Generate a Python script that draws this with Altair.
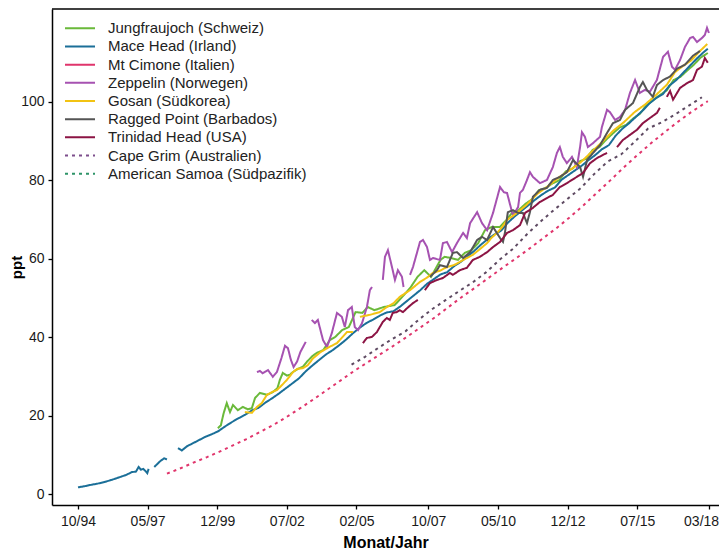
import altair as alt
import pandas as pd

STATIONS = ["Jungfraujoch (Schweiz)", "Mace Head (Irland)", "Mt Cimone (Italien)",
            "Zeppelin (Norwegen)", "Gosan (Südkorea)", "Ragged Point (Barbados)",
            "Trinidad Head (USA)", "Cape Grim (Australien)", "American Samoa (Südpazifik)"]
LEGEND_COLORS = ["#6ab93a", "#1b6f98", "#e0356c", "#a652b1", "#f2c313", "#555555",
                 "#8c1444", "#7d4e8c", "#2e9468"]
PLOT_COLORS = ["#6ab93a", "#1b6f98", "#e0356c", "#a652b1", "#f2c313", "#555555",
               "#8c1444", "#e0356c", "#5e4a62"]
DOTTED = [0, 0, 0, 0, 0, 0, 0, 1, 1]

X_TICK_LABELS = ["10/94", "05/97", "12/99", "07/02", "02/05", "10/07", "05/10", "12/12", "07/15", "03/18"]
Y_TICKS = [0, 20, 40, 60, 80, 100]

# (decimal year, ppt) per segment
JFJ = [[(1999.94, 16.8), (2000.05, 17.5), (2000.15, 20.5), (2000.27, 23.2), (2000.39, 20.9), (2000.5, 22.7),
        (2000.68, 21.4), (2000.87, 22.2), (2001.05, 21.6), (2001.2, 21.9), (2001.32, 24.5), (2001.5, 25.8),
        (2001.76, 25.3), (2001.98, 26.0), (2002.15, 27.0), (2002.24, 29.1), (2002.35, 30.9), (2002.5, 30.2),
        (2002.61, 30.4), (2002.72, 31.1), (2002.91, 31.9), (2003.1, 32.5), (2003.24, 33.7), (2003.45, 35.2),
        (2003.61, 36.0), (2003.85, 36.7), (2004.1, 39.3), (2004.3, 40.1), (2004.55, 41.8), (2004.8, 42.6),
        (2005.05, 46.4), (2005.3, 46.2), (2005.5, 47.7), (2005.75, 46.9), (2006.1, 47.7), (2006.5, 48.2),
        (2006.85, 50.8), (2007.1, 52.8), (2007.35, 55.4), (2007.6, 57.1), (2007.85, 55.4), (2008.2, 59.7),
        (2008.35, 60.5), (2008.6, 60.2), (2008.85, 59.7), (2009.1, 61.5), (2009.35, 62.2), (2009.6, 64.0),
        (2009.85, 67.3), (2010.1, 68.1), (2010.4, 68.1), (2010.65, 69.9), (2010.85, 71.7), (2011.1, 72.4),
        (2011.35, 74.0), (2011.6, 75.2), (2011.85, 77.5), (2012.1, 78.0), (2012.35, 79.2), (2012.6, 80.0),
        (2012.85, 82.3), (2013.1, 83.0), (2013.35, 84.8), (2013.6, 85.5), (2013.85, 87.8), (2014.1, 88.5),
        (2014.35, 90.4), (2014.6, 92.0), (2014.85, 93.5), (2015.1, 94.2), (2015.35, 95.8), (2015.6, 97.0),
        (2015.85, 99.2), (2016.1, 100.5), (2016.35, 101.8), (2016.6, 103.0), (2016.85, 105.6), (2017.1, 106.4),
        (2017.35, 108.0), (2017.6, 109.5), (2017.85, 111.3), (2018.12, 112.5)]]

MHD = [[(1994.75, 1.7), (1995.0, 2.0), (1995.2, 2.3), (1995.45, 2.6), (1995.7, 3.0), (1996.0, 3.6),
        (1996.3, 4.3), (1996.55, 4.9), (1996.75, 5.6), (1996.9, 5.7), (1997.0, 6.9), (1997.08, 6.2),
        (1997.17, 6.4), (1997.25, 5.9), (1997.32, 5.3), (1997.37, 6.4)],
       [(1997.58, 6.9), (1997.7, 7.7), (1997.82, 8.5), (1997.95, 9.1), (1998.05, 8.8)],
       [(1998.46, 11.7), (1998.6, 11.1), (1998.8, 12.2), (1999.0, 12.9), (1999.2, 13.6), (1999.45, 14.5),
        (1999.7, 15.2), (1999.95, 16.0), (2000.2, 17.2), (2000.45, 18.3), (2000.7, 19.3), (2000.95, 20.2),
        (2001.2, 21.3), (2001.45, 22.0), (2001.7, 23.3), (2001.95, 24.4), (2002.2, 25.6), (2002.45, 26.9),
        (2002.7, 28.2), (2002.95, 29.5), (2003.2, 31.3), (2003.45, 32.8), (2003.7, 34.2), (2003.95, 35.6),
        (2004.2, 36.7), (2004.45, 38.0), (2004.7, 39.4), (2004.95, 41.0), (2005.2, 42.4), (2005.45, 43.6),
        (2005.7, 44.5), (2005.95, 45.5), (2006.2, 46.3), (2006.45, 46.6), (2006.7, 47.8), (2006.95, 49.2),
        (2007.2, 50.6), (2007.45, 52.0), (2007.7, 53.6), (2007.95, 54.8), (2008.2, 56.0), (2008.45, 56.6),
        (2008.7, 58.1), (2008.95, 59.2), (2009.2, 60.6), (2009.45, 62.0), (2009.7, 63.6), (2009.95, 65.0),
        (2010.2, 66.2), (2010.45, 67.2), (2010.7, 69.2), (2010.95, 70.8), (2011.2, 72.2), (2011.45, 73.6),
        (2011.7, 75.0), (2011.95, 76.3), (2012.2, 77.4), (2012.45, 78.2), (2012.7, 80.2), (2012.95, 81.4),
        (2013.2, 82.6), (2013.45, 83.8), (2013.7, 85.2), (2013.95, 86.5), (2014.2, 88.0), (2014.45, 89.0),
        (2014.7, 91.4), (2014.95, 93.2), (2015.2, 94.6), (2015.45, 96.2), (2015.7, 97.8), (2015.95, 99.6),
        (2016.2, 101.0), (2016.45, 102.0), (2016.7, 104.2), (2016.95, 105.6), (2017.2, 107.4), (2017.45, 109.2),
        (2017.7, 111.0), (2017.95, 112.6), (2018.12, 113.6)]]

CMN = []

ZEP = [[(2001.39, 31.1), (2001.5, 31.4), (2001.6, 30.8), (2001.7, 31.2), (2001.8, 31.6), (2001.98, 29.9),
        (2002.13, 31.1), (2002.3, 34.7), (2002.43, 37.8), (2002.54, 37.2), (2002.65, 34.2), (2002.75, 32.4),
        (2002.88, 33.8), (2003.0, 36.2), (2003.2, 38.8)],
       [(2003.42, 44.4), (2003.54, 43.6), (2003.65, 44.4), (2003.84, 39.3), (2003.99, 37.5), (2004.17, 41.1),
        (2004.36, 46.2), (2004.54, 45.2), (2004.65, 42.6), (2004.77, 46.9), (2004.91, 47.7), (2005.02, 42.6),
        (2005.14, 41.8), (2005.29, 43.6), (2005.47, 47.7), (2005.58, 52.0), (2005.66, 52.8)],
       [(2006.06, 54.6), (2006.14, 60.5), (2006.25, 62.2), (2006.4, 57.9), (2006.51, 54.6), (2006.62, 57.1),
        (2006.77, 55.4), (2006.83, 52.8)],
       [(2007.07, 55.9), (2007.18, 57.9), (2007.44, 64.3), (2007.55, 64.8), (2007.7, 63.0), (2007.81, 59.7),
        (2007.92, 60.2), (2008.18, 59.7), (2008.29, 64.0), (2008.44, 64.3), (2008.63, 61.7), (2008.81, 64.0),
        (2009.04, 66.6), (2009.18, 65.3), (2009.3, 69.1), (2009.56, 71.9), (2009.74, 69.1), (2009.93, 67.3),
        (2010.15, 71.7), (2010.41, 78.3), (2010.55, 77.0), (2010.67, 76.8), (2010.89, 71.0), (2011.08, 73.2),
        (2011.15, 76.8), (2011.26, 77.6), (2011.41, 80.1), (2011.52, 82.1), (2011.63, 80.9), (2011.89, 79.3),
        (2012.15, 80.1), (2012.37, 83.4), (2012.52, 87.0), (2012.63, 88.5), (2012.74, 86.0), (2012.89, 84.4),
        (2013.08, 86.0), (2013.26, 83.4), (2013.38, 88.5), (2013.45, 92.3), (2013.56, 91.1), (2013.67, 88.5),
        (2013.86, 89.5), (2014.12, 91.1), (2014.19, 93.6), (2014.38, 98.0), (2014.49, 97.4), (2014.68, 95.4),
        (2014.86, 96.2), (2015.05, 98.0), (2015.23, 102.3), (2015.42, 105.6), (2015.6, 102.3), (2015.79, 103.1),
        (2015.97, 102.6), (2016.23, 105.6), (2016.46, 111.5), (2016.64, 112.8), (2016.79, 109.0), (2016.9, 108.2),
        (2017.09, 110.7), (2017.27, 114.0), (2017.46, 116.3), (2017.57, 116.6), (2017.72, 115.3), (2017.9, 116.3),
        (2018.01, 117.1), (2018.09, 118.9), (2018.16, 117.6)]]

GSN = [[(2000.94, 20.9), (2001.2, 20.7), (2001.39, 22.2), (2001.57, 23.2), (2001.76, 25.3), (2001.95, 26.0),
        (2002.13, 26.5), (2002.32, 27.8), (2002.5, 29.1), (2002.73, 31.1), (2002.88, 31.9), (2003.1, 32.1),
        (2003.28, 32.9), (2003.47, 34.6), (2003.75, 36.2), (2003.99, 37.2), (2004.36, 38.5), (2004.73, 41.3),
        (2004.95, 41.3)],
       [(2005.21, 45.2), (2005.58, 45.7), (2005.95, 46.4), (2006.21, 47.7), (2006.45, 48.6), (2006.69, 50.3),
        (2007.07, 52.0), (2007.44, 54.1), (2007.7, 55.2), (2007.92, 56.4), (2008.2, 57.0), (2008.44, 57.9),
        (2008.7, 58.4), (2008.92, 59.2), (2009.15, 60.1), (2009.4, 61.0), (2009.65, 62.4), (2009.93, 64.0),
        (2010.1, 65.4), (2010.3, 66.6), (2010.5, 68.2), (2010.67, 69.9), (2011.04, 71.7), (2011.4, 73.8),
        (2011.8, 76.6), (2012.2, 78.6), (2012.6, 80.8), (2013.0, 82.6), (2013.4, 84.6), (2013.8, 87.2),
        (2014.2, 89.8), (2014.6, 92.6), (2015.0, 94.8), (2015.4, 97.4), (2015.8, 99.4), (2016.2, 101.8),
        (2016.6, 104.4), (2016.9, 107.6), (2017.2, 109.2), (2017.5, 110.6), (2017.8, 112.8), (2018.1, 114.8)]]

RPB = [[(2007.81, 55.4), (2008.07, 57.1), (2008.18, 58.4), (2008.44, 57.9), (2008.66, 61.5), (2008.81, 61.7),
        (2009.04, 60.2), (2009.3, 61.7), (2009.56, 64.8), (2009.74, 65.6), (2009.93, 64.8), (2010.15, 68.1),
        (2010.41, 65.3), (2010.52, 64.3), (2010.59, 66.6), (2010.7, 71.9), (2010.89, 72.4), (2011.08, 71.7),
        (2011.26, 71.7), (2011.41, 69.1), (2011.52, 71.9), (2011.63, 75.8), (2011.89, 77.6), (2012.15, 78.1),
        (2012.37, 80.1), (2012.63, 80.9), (2012.89, 82.1), (2013.12, 85.2), (2013.38, 83.4), (2013.49, 80.9),
        (2013.64, 85.2), (2013.86, 87.0), (2014.12, 89.0), (2014.38, 92.1), (2014.6, 94.6), (2014.86, 95.4),
        (2015.05, 98.0), (2015.34, 99.7), (2015.6, 103.8), (2015.71, 105.1), (2015.86, 103.1), (2016.08, 101.3),
        (2016.23, 104.3), (2016.46, 105.6), (2016.72, 106.5), (2016.98, 108.5), (2017.27, 109.5), (2017.57, 111.8),
        (2017.83, 113.0)]]

THD = [[(2005.32, 38.5), (2005.47, 39.8), (2005.66, 40.1), (2005.84, 41.3), (2005.95, 42.6), (2006.06, 43.9),
        (2006.21, 44.9), (2006.32, 44.4), (2006.43, 46.2), (2006.58, 46.4), (2006.69, 46.9), (2006.81, 46.4),
        (2006.96, 47.4), (2007.18, 48.7), (2007.36, 49.5)],
       [(2007.62, 52.0), (2007.81, 53.8), (2008.07, 54.6), (2008.29, 55.1), (2008.55, 56.4), (2008.66, 55.9),
        (2008.92, 57.1), (2009.18, 57.7), (2009.4, 59.7), (2009.66, 60.5), (2009.93, 61.7), (2010.15, 63.0),
        (2010.41, 64.3), (2010.67, 66.6), (2010.89, 67.3), (2011.15, 68.6), (2011.34, 71.7), (2011.63, 73.0),
        (2011.89, 74.5), (2012.15, 75.5), (2012.37, 76.3), (2012.63, 78.3), (2012.89, 79.3), (2013.26, 80.9),
        (2013.49, 81.9), (2013.75, 84.4), (2014.01, 85.7), (2014.23, 86.5), (2014.38, 87.0)],
       [(2014.75, 88.5), (2014.97, 90.3), (2015.23, 91.6), (2015.49, 92.9), (2015.71, 94.6), (2015.97, 95.9),
        (2016.23, 97.2), (2016.34, 98.5)],
       [(2016.6, 101.3), (2016.72, 102.8), (2016.83, 100.6), (2017.09, 103.6), (2017.35, 104.8), (2017.57, 105.6),
        (2017.72, 108.2), (2017.9, 109.0), (2018.01, 111.2), (2018.12, 110.0)]]

CGO = [[(1998.05, 5.2), (1998.5, 6.4), (1999.0, 7.9), (1999.5, 9.3), (2000.0, 10.8), (2000.5, 12.4),
        (2001.0, 14.0), (2001.5, 15.8), (2002.0, 17.6), (2002.5, 19.7), (2003.0, 21.9), (2003.5, 24.2),
        (2004.0, 26.6), (2004.5, 29.0), (2005.0, 31.4), (2005.5, 33.6), (2006.0, 35.8), (2006.5, 38.0),
        (2007.0, 40.3), (2007.5, 42.7), (2008.0, 45.1), (2008.5, 47.7), (2009.0, 50.3), (2009.5, 52.7),
        (2010.0, 55.2), (2010.5, 57.7), (2011.0, 60.1), (2011.5, 62.6), (2012.0, 65.2), (2012.5, 67.8),
        (2013.0, 70.6), (2013.5, 73.6), (2014.0, 76.8), (2014.5, 80.0), (2015.0, 83.3), (2015.5, 86.4),
        (2016.0, 89.4), (2016.5, 92.2), (2017.0, 94.9), (2017.5, 97.4), (2018.12, 100.2)]]

SMO = [[(2004.9, 33.0), (2005.4, 35.0), (2005.9, 37.3), (2006.4, 39.5), (2006.9, 41.5), (2007.4, 44.5),
        (2007.9, 47.2), (2008.4, 49.5), (2008.9, 51.8), (2009.4, 54.0), (2009.9, 56.6), (2010.4, 59.8),
        (2010.9, 62.6), (2011.4, 66.2), (2011.9, 69.4), (2012.4, 72.4), (2012.9, 75.2), (2013.4, 78.0),
        (2013.9, 81.6), (2014.4, 84.8), (2014.9, 86.6), (2015.4, 89.8), (2015.9, 93.2), (2016.4, 94.8),
        (2016.9, 96.8), (2017.4, 99.0), (2017.9, 101.2)]]

SERIES = [JFJ, MHD, CMN, ZEP, GSN, RPB, THD, CGO, SMO]

rows = []
for i, (name, segs) in enumerate(zip(STATIONS, SERIES)):
    for j, seg in enumerate(segs):
        for yr, v in seg:
            rows.append({"station": name, "seg": f"{i}_{j}", "year": yr, "ppt": v,
                         "pcolor": PLOT_COLORS[i], "dash": "dot" if DOTTED[i] else "solid"})
df = pd.DataFrame(rows)

leg_df = pd.DataFrame({"name": STATIONS, "lcolor": LEGEND_COLORS,
                       "dash": ["dot" if d else "solid" for d in DOTTED],
                       "idx": list(range(len(STATIONS)))})


def tick_pos(lbl):
    m, y = lbl.split("/")
    y = int(y)
    y = 1900 + y if y > 50 else 2000 + y
    return y + (int(m) - 1) / 12


x_ticks = [tick_pos(l) for l in X_TICK_LABELS]

W, H = 667, 496
FONT = "Liberation Sans"
dash_scale = alt.Scale(domain=["solid", "dot"], range=[[1, 0], [3, 4]])

lines = alt.Chart(df).mark_line(strokeWidth=2, clip=True).encode(
    x=alt.X("year:Q", scale=alt.Scale(domain=[1993.785, 2018.535], nice=False, zero=False),
            axis=alt.Axis(values=x_ticks, title="Monat/Jahr",
                          labelExpr="timeFormat(datetime(floor(datum.value), round((datum.value - floor(datum.value)) * 12), 15), '%m/%y')",
                          labelOffset={"condition": {"test": "datum.value > 2018", "value": -8}, "value": 0},
                          labelPadding=5, titleFontSize=16, titleY=37, titleBaseline="middle")),
    y=alt.Y("ppt:Q", scale=alt.Scale(domain=[-2.806, 123.72], nice=False, zero=False),
            axis=alt.Axis(values=Y_TICKS, title="ppt", labelPadding=4, titleFontSize=15,
                          titleX=-36, titleY=258, titleBaseline="middle", titleAlign="center")),
    color=alt.Color("pcolor:N", scale=None),
    strokeDash=alt.StrokeDash("dash:N", scale=dash_scale, legend=None),
    detail="seg:N",
)

leg_y = alt.Y("idx:Q", scale=alt.Scale(domain=[0, 8], range=[19.3, 164.7]), axis=None)
leg_lines = alt.Chart(leg_df).mark_rule(strokeWidth=2).encode(
    x=alt.value(13), x2=alt.value(43), y=leg_y,
    color=alt.Color("lcolor:N", scale=None),
    strokeDash=alt.StrokeDash("dash:N", scale=dash_scale, legend=None),
)
leg_text = alt.Chart(leg_df).mark_text(align="left", baseline="middle", fontSize=15, font=FONT,
                                       color="#222222").encode(
    x=alt.value(56), y=leg_y, text="name:N")

top_rule = alt.Chart(pd.DataFrame({"a": [0]})).mark_rule(color="black", strokeWidth=1.5).encode(
    x=alt.value(0), x2=alt.value(W), y=alt.value(0))

chart = alt.layer(lines, leg_lines, leg_text, top_rule).resolve_scale(y="independent").properties(
    width=W, height=H,
    autosize=alt.AutoSizeParams(type="none"),
    padding={"left": 44, "top": 1, "right": 0, "bottom": 44},
).configure_view(stroke=None).configure_axis(
    domainColor="black", domainWidth=1.5, tickColor="black", tickWidth=1.3, tickSize=4,
    labelFont=FONT, labelFontSize=14, labelColor="#1a1a1a",
    titleFont=FONT, titleFontWeight="bold", titleColor="black", grid=False,
)

chart.save("out.html", embed_options={"renderer": "svg", "actions": False})
